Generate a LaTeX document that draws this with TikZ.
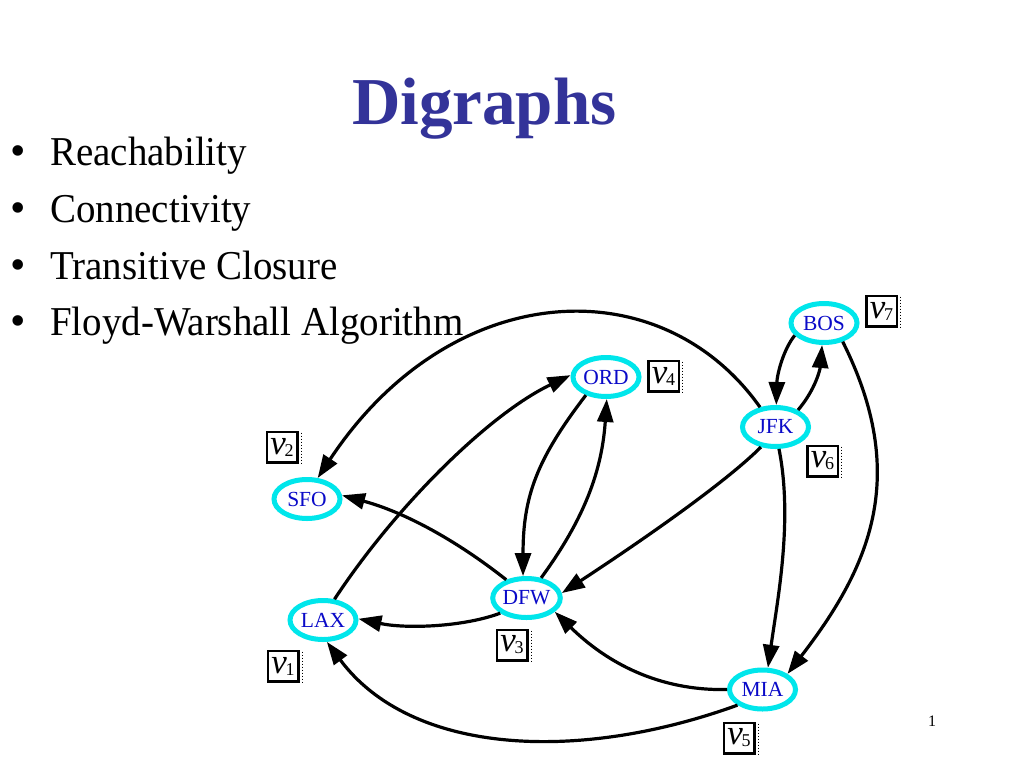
\documentclass[tikz,border=0pt]{standalone}
\usepackage{fontspec}
\setmainfont{Liberation Serif}
\usetikzlibrary{arrows.meta,shapes.geometric}
\definecolor{titleblue}{RGB}{51,51,153}
\definecolor{ringcyan}{RGB}{0,230,235}
\definecolor{labblue}{RGB}{10,10,200}
\newcommand{\vlab}[1]{{\fontsize{35}{35}\selectfont\itshape v}\kern-1.5pt\raisebox{-2pt}{\fontsize{18}{18}\selectfont #1}}
\newcommand{\itemfont}[1]{\scalebox{0.95}[1]{#1}}
\begin{document}
\begin{tikzpicture}[x=1pt,y=-1pt,
 airport/.style={ellipse, draw=ringcyan, line width=5pt, fill=white, minimum width=66pt, minimum height=39pt, inner sep=0pt, text=labblue, font=\fontsize{21.5}{21.5}\selectfont},
 vbox/.style={draw, line width=2.5pt, minimum size=30.5pt, inner sep=0pt, fill=white},
 link/.style={line width=3.2pt, -{Triangle[length=23pt,width=16pt]}},
 bul/.style={anchor=base, inner sep=0pt, font=\fontsize{44}{44}\selectfont},
 itemtext/.style={anchor=base west, inner sep=0pt, font=\fontsize{41}{41}\selectfont}]
\fill[white] (0,0) rectangle (1024,768);
\useasboundingbox (0,0) rectangle (1024,768);

% title and bullets
\node[anchor=base west, inner sep=0pt, text=titleblue, font=\fontsize{67}{67}\selectfont\bfseries] (title) at (352,124) {Digraphs};
\node[bul] (b1) at (18,165) {•};
\node[bul] (b2) at (18,222) {•};
\node[bul] (b3) at (18,279) {•};
\node[bul] (b4) at (18,335) {•};
\node[itemtext] (t1) at (50,165) {\itemfont{Reachability}};
\node[itemtext] (t2) at (50,222) {\itemfont{Connectivity}};
\node[itemtext] (t3) at (50,279) {\itemfont{Transitive Closure}};
\node[itemtext] (t4) at (50,335) {\itemfont{Floyd-Warshall Algorithm}};
\node[anchor=base, font=\fontsize{16}{16}\selectfont] (pg) at (932,726) {1};

% airports
\node[airport] (BOS) at (824,323) {BOS};
\node[airport] (ORD) at (606,377) {ORD};
\node[airport] (JFK) at (775.5,427) {JFK};
\node[airport] (SFO) at (307,499) {SFO};
\node[airport] (DFW) at (526.5,598) {DFW};
\node[airport] (LAX) at (323,620) {LAX};
\node[airport] (MIA) at (762.5,689.5) {MIA};

% vertex labels
\node[vbox] (v7) at (881.5,311) {\vlab{7}};
\node[vbox] (v4) at (663.5,376) {\vlab{4}};
\node[vbox] (v6) at (822.5,461) {\vlab{6}};
\node[vbox] (v2) at (282,447) {\vlab{2}};
\node[vbox] (v3) at (512,645) {\vlab{3}};
\node[vbox] (v1) at (283,666) {\vlab{1}};
\node[vbox] (v5) at (739,738) {\vlab{5}};
\foreach \n in {v1,v2,v3,v4,v5,v6,v7}
  \draw[dotted, line width=1pt] ([xshift=2.5pt,yshift=-2pt]\n.north east) -- ([xshift=2.5pt]\n.south east);

% edges
\draw[link] (JFK.128) .. controls (660,266) and (450,278) .. (SFO.63);
\draw[link] (LAX.61) .. controls (395,507) and (489,414) .. (ORD.177);
\draw[link] (ORD.222) .. controls (537,459) and (523,496) .. (DFW.99);
\draw[link] (DFW.54) .. controls (585,518) and (602,470) .. (ORD.-88);
\draw[link] (DFW.138) .. controls (456,540) and (404,512) .. (SFO.6);
\draw[link] (DFW.210) .. controls (463,627) and (406,629) .. (LAX.2);
\draw[link] (JFK.234) .. controls (720,488) and (620,555) .. (DFW.8);
\draw[link] (JFK.279) .. controls (793,519) and (778,597) .. (MIA.76);
\draw[link] (BOS.203) .. controls (783,350) and (777,375) .. (JFK.88);
\draw[link] (JFK.37) .. controls (815,390) and (820,370) .. (BOS.265);
\draw[link] (BOS.-45) .. controls (910,476) and (870,567) .. (MIA.32);
\draw[link] (MIA.180) .. controls (658,691) and (606,662) .. (DFW.-26);
\draw[link] (MIA.212) .. controls (578,763) and (411,755) .. (LAX.-80);
\end{tikzpicture}
\end{document}
